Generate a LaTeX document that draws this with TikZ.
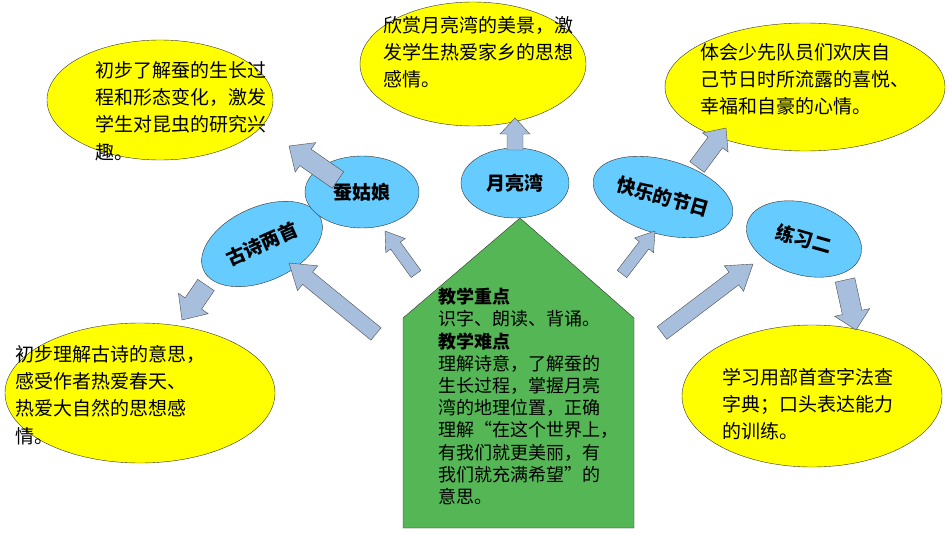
\documentclass[tikz,border=0pt]{standalone}
\usepackage{fontspec}
\setmainfont{Noto Sans CJK SC}
\usetikzlibrary{shapes.geometric,calc}
\definecolor{lesson}{HTML}{66CCFF}
\definecolor{goal}{HTML}{FFFF00}
\definecolor{keygreen}{HTML}{55B655}
\definecolor{arrowblue}{HTML}{A7BFDC}
\tikzset{
  lesson/.style={ellipse,draw=black!80,fill=lesson,font=\fontsize{19}{21}\selectfont\bfseries},
  goal/.style={ellipse,draw=black!80,fill=goal},
  goaltext/.style={anchor=north west,align=left,inner sep=0pt,font=\fontsize{19}{27.3}\selectfont},
  barrow/.style={draw=black!70,fill=arrowblue}
}
% block arrow: start, tip, shaft half width, head half width, head length
\newcommand\blockarrow[5]{%
  \path let \p1=(#1), \p2=(#2), \n1={atan2(\y2-\y1,\x2-\x1)},
    \n2={veclen(\x2-\x1,\y2-\y1)} in
    [barrow,shift={(\p1)},rotate=\n1]
    (0pt,-#3pt) -- (\n2-#5pt,-#3pt) -- (\n2-#5pt,-#4pt) -- (\n2,0pt)
    -- (\n2-#5pt,#4pt) -- (\n2-#5pt,#3pt) -- (0pt,#3pt) -- cycle;}
\begin{document}
\begin{tikzpicture}[x=1pt,y=-1pt]
  \useasboundingbox (0,0) rectangle (950,535);
  % goals
  \node[goal,minimum width=226,minimum height=120] (gcan) at (160,100) {};
  \node[goaltext] at (95,61) {初步了解蚕的生长过\\程和形态变化，激发\\学生对昆虫的研究兴\\趣。};
  \node[goal,minimum width=226,minimum height=124] (gyue) at (473,64) {};
  \node[goaltext] at (383,16) {欣赏月亮湾的美景，激\\发学生热爱家乡的思想\\感情。};
  \node[goal,minimum width=280,minimum height=128] (gjie) at (805,87) {};
  \node[goaltext] at (700,43) {体会少先队员们欢庆自\\己节日时所流露的喜悦、\\幸福和自豪的心情。};
  \node[goal,minimum width=270,minimum height=140] (gshi) at (140,393) {};
  \node[goaltext] at (15,345) {初步理解古诗的意思，\\感受作者热爱春天、\\热爱大自然的思想感\\情。};
  \node[goal,minimum width=260,minimum height=142] (glian) at (812,396) {};
  \node[goaltext] at (722,368) {学习用部首查字法查\\字典；口头表达能力\\的训练。};
  % key points
  \path[draw=black!80,fill=keygreen] (403,528) coordinate (kbl) -- (403,318)
    -- (520,218) coordinate (ktop) -- (634,318) -- (634,528) -- cycle;
  \node[anchor=north west,align=left,inner sep=0pt,font=\fontsize{18}{22.2}\selectfont] (key) at (438,288)
    {\textbf{教学重点}\\识字、朗读、背诵。\\\textbf{教学难点}\\理解诗意，了解蚕的\\生长过程，掌握月亮\\湾的地理位置，正确\\理解“在这个世界上，\\有我们就更美丽，有\\我们就充满希望”的\\意思。};
  % lessons
  \node[lesson,minimum width=128,minimum height=74,rotate=24] (shi) at (262,244) {古诗两首};
  \node[lesson,minimum width=114,minimum height=72] (can) at (362,192) {蚕姑娘};
  \node[lesson,minimum width=108,minimum height=70] (yue) at (515,183) {月亮湾};
  \node[lesson,minimum width=134,minimum height=74,rotate=-16] (jie) at (663,197) {快乐的节日};
  \node[lesson,minimum width=118,minimum height=72,rotate=-16] (lian) at (804,239) {练习二};
  % arrows
  \coordinate (a1s) at (376,334); \coordinate (a1t) at (289,263);
  \coordinate (a2s) at (416,274); \coordinate (a2t) at (385,231);
  \coordinate (a3s) at (622,274); \coordinate (a3t) at (655,231);
  \coordinate (a4s) at (662,333); \coordinate (a4t) at (753,264);
  \coordinate (b1s) at (338,180); \coordinate (b1t) at (289,146);
  \coordinate (b2s) at (515,150); \coordinate (b2t) at (515,118);
  \coordinate (b3s) at (697,167); \coordinate (b3t) at (726,128);
  \coordinate (b4s) at (206,285); \coordinate (b4t) at (182,320);
  \coordinate (b5s) at (845,280); \coordinate (b5t) at (856,330);
  \blockarrow{a1s}{a1t}{8}{16}{24}
  \blockarrow{a2s}{a2t}{6}{12}{18}
  \blockarrow{a3s}{a3t}{6}{12}{18}
  \blockarrow{a4s}{a4t}{8}{16}{24}
  \blockarrow{b1s}{b1t}{10}{18}{20}
  \blockarrow{b2s}{b2t}{8}{15}{16}
  \blockarrow{b3s}{b3t}{9}{16}{18}
  \blockarrow{b4s}{b4t}{10}{18}{20}
  \blockarrow{b5s}{b5t}{10}{18}{18}
\end{tikzpicture}
\end{document}
